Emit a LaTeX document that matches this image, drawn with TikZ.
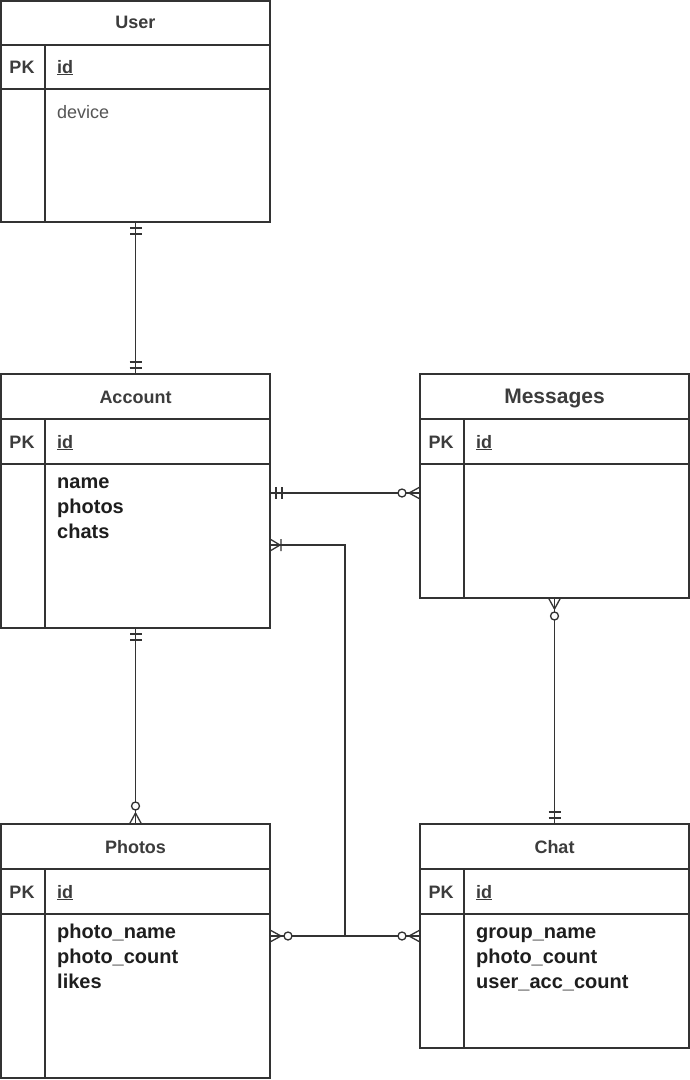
\documentclass[tikz,border=0pt]{standalone}
\usepackage{fontspec}
\setmainfont{Liberation Sans}
\definecolor{linec}{HTML}{333333}
\definecolor{titlec}{HTML}{3c3c3c}
\definecolor{fieldc}{HTML}{1e1e1e}
\definecolor{devc}{HTML}{555555}
\begin{document}
\begin{tikzpicture}[x=1pt,y=-1pt,
  tbl/.style={draw=linec, line width=1.5pt, minimum width=269pt, minimum height=#1, anchor=north west, inner sep=0pt, outer sep=0pt},
  tline/.style={draw=linec, line width=1.5pt},
  conn/.style={draw=linec, line width=1.4pt},
  mk/.style={draw=linec, line width=1.3pt},
  ttl/.style={anchor=base, inner sep=0pt, text=titlec, font=\bfseries\fontsize{18}{20}\selectfont},
  bigttl/.style={anchor=base, inner sep=0pt, text=titlec, font=\bfseries\fontsize{21}{24}\selectfont},
  pk/.style={anchor=base, inner sep=0pt, text=titlec, font=\bfseries\fontsize{18}{20}\selectfont},
  idf/.style={anchor=base west, inner sep=0pt, text=titlec, font=\bfseries\fontsize{18}{20}\selectfont},
  fld/.style={anchor=base west, inner sep=0pt, text=fieldc, font=\bfseries\fontsize{20}{24}\selectfont},
  dev/.style={anchor=base west, inner sep=0pt, text=devc, font=\fontsize{18}{20}\selectfont},
  mandone/.pic={\draw[mk] (6,-6) -- (6,6) (12,-6) -- (12,6);},
  zeromany/.pic={\draw[mk] (0,-6) -- (11,0) -- (0,6); \draw[mk, fill=white] (18,0) circle (4pt);},
  onemany/.pic={\draw[mk] (0,-6) -- (10,0) -- (0,6) (11,-6) -- (11,6);}
]
\useasboundingbox (0,0) rectangle (690,1080);
\fill[white] (0,0) rectangle (690,1080);

% tables
\node[tbl=221pt] (user) at (1,1) {};
\node[tbl=254pt] (account) at (1,374) {};
\node[tbl=224pt] (messages) at (420,374) {};
\node[tbl=254pt] (photos) at (1,824) {};
\node[tbl=224pt] (chat) at (420,824) {};

\newcommand\erlines[2]{%
  \draw[tline] ([yshift=-#2pt]#1.north west) -- ([yshift=-#2pt]#1.north east);
  \draw[tline] ([yshift=-2*#2pt]#1.north west) -- ([yshift=-2*#2pt]#1.north east);
  \draw[tline] ([xshift=44pt,yshift=-#2pt]#1.north west) -- ([xshift=44pt]#1.south west);
}
\erlines{user}{44}
\erlines{account}{45}
\erlines{messages}{45}
\erlines{photos}{45}
\erlines{chat}{45}

% titles
\node[ttl] (tuser) at ([yshift=-27pt]user.north) {User};
\node[ttl] (taccount) at ([yshift=-29pt]account.north) {Account};
\node[bigttl] (tmessages) at ([yshift=-29pt]messages.north) {Messages};
\node[ttl] (tphotos) at ([yshift=-29pt]photos.north) {Photos};
\node[ttl] (tchat) at ([yshift=-29pt]chat.north) {Chat};

% PK rows
\node[pk] (pkuser) at ([xshift=21pt,yshift=-72pt]user.north west) {PK};
\node[idf] (iduser) at ([xshift=56pt,yshift=-72pt]user.north west) {\underline{id}};
\node[pk] (pkaccount) at ([xshift=21pt,yshift=-74pt]account.north west) {PK};
\node[idf] (idaccount) at ([xshift=56pt,yshift=-74pt]account.north west) {\underline{id}};
\node[pk] (pkmessages) at ([xshift=21pt,yshift=-74pt]messages.north west) {PK};
\node[idf] (idmessages) at ([xshift=56pt,yshift=-74pt]messages.north west) {\underline{id}};
\node[pk] (pkphotos) at ([xshift=21pt,yshift=-74pt]photos.north west) {PK};
\node[idf] (idphotos) at ([xshift=56pt,yshift=-74pt]photos.north west) {\underline{id}};
\node[pk] (pkchat) at ([xshift=21pt,yshift=-74pt]chat.north west) {PK};
\node[idf] (idchat) at ([xshift=56pt,yshift=-74pt]chat.north west) {\underline{id}};

% fields
\node[dev] (fdevice) at ([xshift=56pt,yshift=-117pt]user.north west) {device};
\node[fld] (fname) at ([xshift=56pt,yshift=-114pt]account.north west) {name};
\node[fld] (fphotos) at ([xshift=56pt,yshift=-139pt]account.north west) {photos};
\node[fld] (fchats) at ([xshift=56pt,yshift=-164pt]account.north west) {chats};
\node[fld] (fpname) at ([xshift=56pt,yshift=-114pt]photos.north west) {photo\_name};
\node[fld] (fpcount) at ([xshift=56pt,yshift=-139pt]photos.north west) {photo\_count};
\node[fld] (flikes) at ([xshift=56pt,yshift=-164pt]photos.north west) {likes};
\node[fld] (fgname) at ([xshift=56pt,yshift=-114pt]chat.north west) {group\_name};
\node[fld] (fccount) at ([xshift=56pt,yshift=-139pt]chat.north west) {photo\_count};
\node[fld] (fuacc) at ([xshift=56pt,yshift=-164pt]chat.north west) {user\_acc\_count};

% connectors
\draw[conn] (user.south) -- (account.north);
\draw[conn] (account.south) -- (photos.north);
\draw[conn] (messages.south) -- (chat.north);
\draw[conn] ([yshift=-119pt]account.north east) -- ([yshift=-119pt]messages.north west);
\coordinate (jn) at (345,936);
\draw[conn] ([yshift=-171pt]account.north east) -| (jn) -- ([yshift=-112pt]chat.north west);
\draw[conn] ([yshift=-112pt]photos.north east) -- (jn);

% markers
\pic[rotate=-90] at (user.south) {mandone};
\pic[rotate=90] at (account.north) {mandone};
\pic at ([yshift=-119pt]account.north east) {mandone};
\pic[rotate=180] at ([yshift=-119pt]messages.north west) {zeromany};
\pic at ([yshift=-171pt]account.north east) {onemany};
\pic[rotate=-90] at (account.south) {mandone};
\pic[rotate=90] at (photos.north) {zeromany};
\pic[rotate=-90] at (messages.south) {zeromany};
\pic[rotate=90] at (chat.north) {mandone};
\pic at ([yshift=-112pt]photos.north east) {zeromany};
\pic[rotate=180] at ([yshift=-112pt]chat.north west) {zeromany};
\end{tikzpicture}
\end{document}
